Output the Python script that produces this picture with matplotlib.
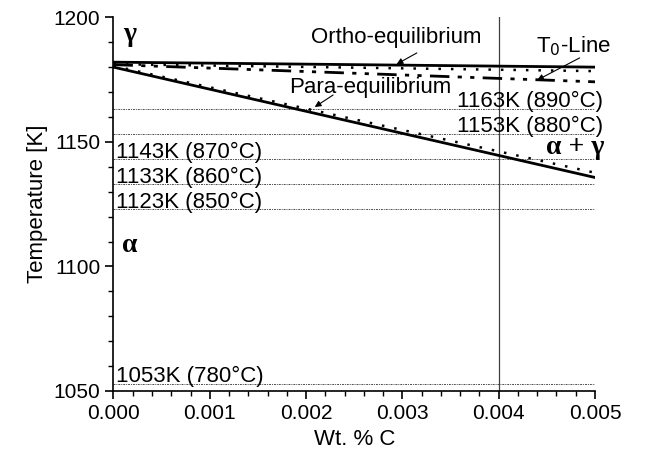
import matplotlib
matplotlib.use("Agg")
import matplotlib.pyplot as plt
from matplotlib.ticker import MultipleLocator

plt.rcParams['font.family'] = ['Liberation Sans', 'DejaVu Sans']

# carbon content (wt. %) at the ends of each boundary
wt_c = [0.0, 0.005]

ortho_solid = [1182.0, 1180.0]
ortho_dotted = [1181.2, 1178.4]
t0_line = [1181.0, 1174.1]
para_solid = [1180.0, 1135.7]
para_dotted = [1180.5, 1137.6]

# isothermal holding temperatures
temps_right = [1163, 1153]
labels_right = ['1163K (890°C)', '1153K (880°C)']
temps_left = [1143, 1133, 1123, 1053]
labels_left = ['1143K (870°C)', '1133K (860°C)', '1123K (850°C)', '1053K (780°C)']
x_mark = 0.004

fig = plt.figure(figsize=(6.54, 4.58), dpi=100)
ax = fig.add_axes([0.1735, 0.1463, 0.7363, 0.8159])

# isotherms
for t in temps_right + temps_left:
    ax.plot(wt_c, [t, t], color='0.3', lw=0.7, ls=(0, (2, 1, 1, 1)))
ax.axvline(x_mark, color='0.25', lw=0.9)

ax.plot(wt_c, ortho_solid, color='k', lw=2.0)
ax.plot(wt_c, ortho_dotted, color='k', lw=1.8, ls=(0, (1, 4)))
ax.plot(wt_c, t0_line, color='k', lw=2.0, ls=(0, (7, 3, 1.5, 3, 1.5, 3)))
ax.plot(wt_c, para_solid, color='k', lw=2.0)
ax.plot(wt_c, para_dotted, color='k', lw=1.8, ls=(0, (1, 4)))

fs = 16
for t, s in zip(temps_right, labels_right):
    ax.text(0.00508, t + 0.8, s, ha='right', va='baseline', fontsize=fs, clip_on=False)
for t, s in zip(temps_left, labels_left):
    ax.text(0.00003, t + 0.6, s, ha='left', va='baseline', fontsize=fs)

# curve names with leader arrows
arrow = dict(arrowstyle='-|>', color='k', lw=0.8, mutation_scale=9, shrinkA=0, shrinkB=0)
ax.text(0.002934, 1191.7, 'Ortho-equilibrium', ha='center', va='center', fontsize=fs)
ax.annotate('', xy=(0.00294, 1181.2), xytext=(0.00315, 1185.7), arrowprops=arrow)
ax.text(0.00478, 1188.3, 'T$_0$-Line', ha='center', va='center', fontsize=fs)
ax.annotate('', xy=(0.0044, 1174.8), xytext=(0.00484, 1183.7), arrowprops=arrow)
ax.text(0.00267, 1172.0, 'Para-equilibrium', ha='center', va='center', fontsize=fs)
ax.annotate('', xy=(0.00209, 1164.0), xytext=(0.00228, 1168.8), arrowprops=arrow)

greek = dict(family=['Liberation Serif', 'DejaVu Serif'], fontsize=20, fontweight='bold')
ax.text(0.00017, 1193.0, 'γ', ha='center', va='center', **greek)
ax.text(0.00017, 1108.6, 'α', ha='center', va='center', **greek)
ax.text(0.00479, 1147.6, 'α + γ', ha='center', va='center', **greek)

ax.set_xlim(0.0, 0.005)
ax.set_ylim(1050, 1200)
ax.xaxis.set_major_locator(MultipleLocator(0.001))
ax.xaxis.set_minor_locator(MultipleLocator(0.0002))
ax.yaxis.set_major_locator(MultipleLocator(50))
ax.yaxis.set_minor_locator(MultipleLocator(10))
ax.xaxis.set_major_formatter(plt.FuncFormatter(lambda v, p: f'{v:.3f}'))
ax.spines['top'].set_visible(False)
ax.spines['right'].set_visible(False)
for sp in ('left', 'bottom'):
    ax.spines[sp].set_linewidth(1.2)
ax.tick_params(which='major', direction='out', length=6, width=1.2, labelsize=15)
ax.tick_params(which='minor', direction='out', length=3.5, width=1.0)
ax.set_xlabel('Wt. % C', fontsize=16)
ax.set_ylabel('Temperature [K]', fontsize=16)

fig.savefig('out.png', dpi=100)
